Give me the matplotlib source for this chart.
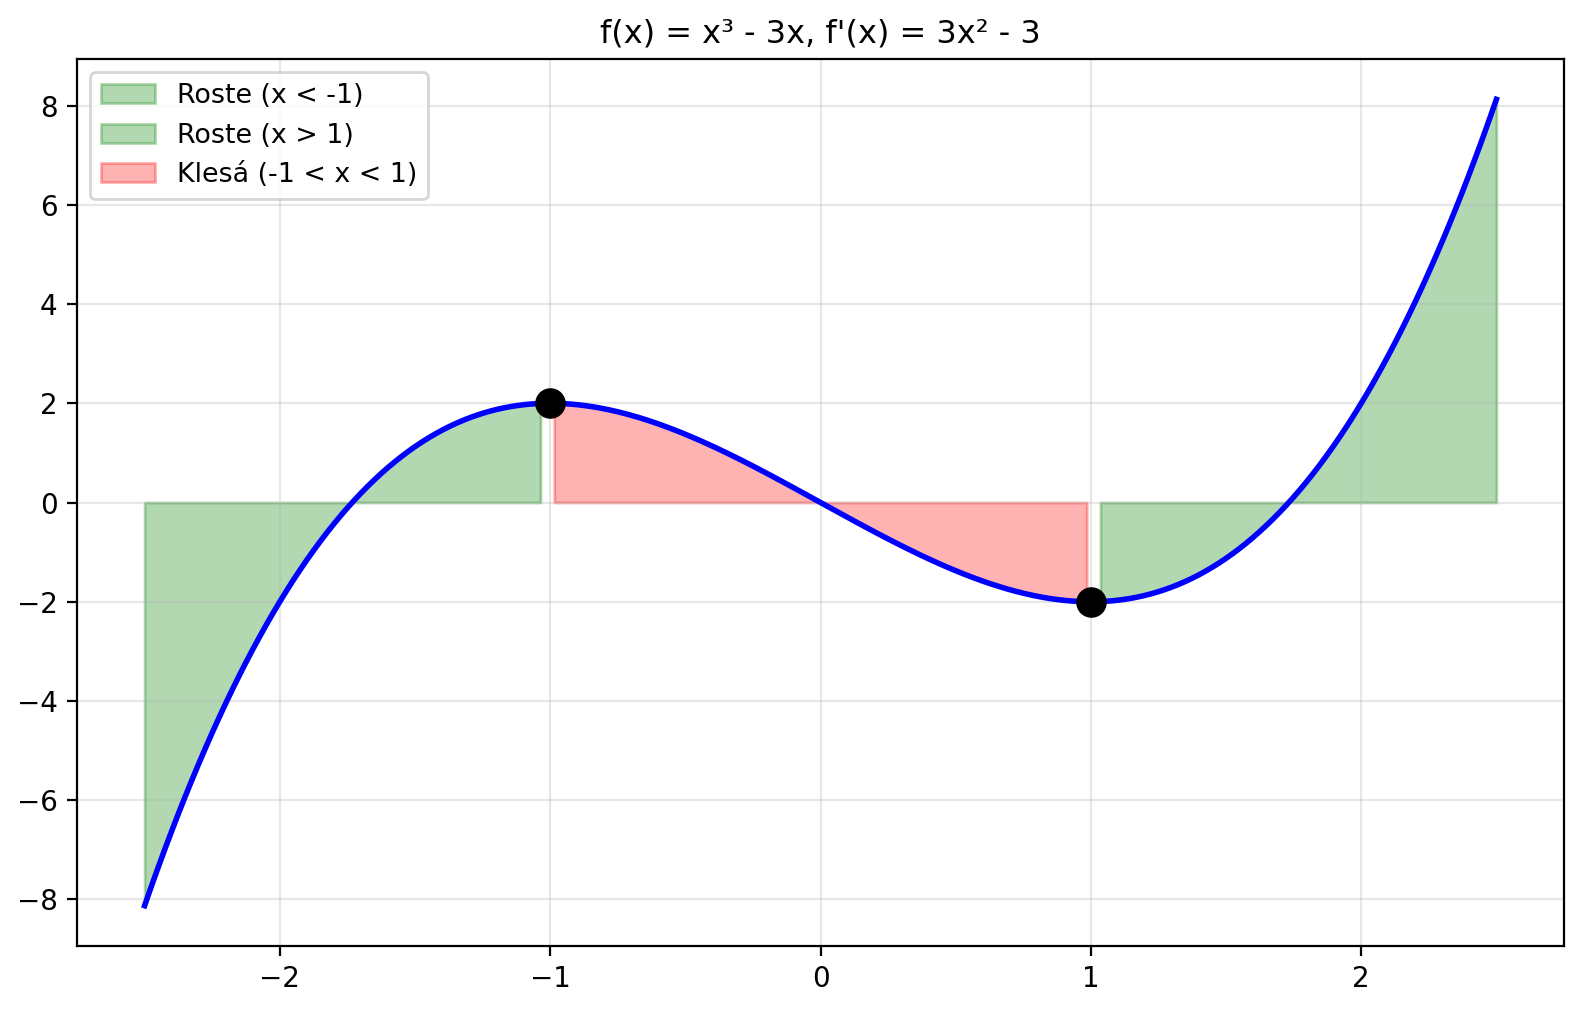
import numpy as np
import matplotlib
matplotlib.use("Agg")
import matplotlib.pyplot as plt

# Data definition
x_min, x_max = -2.5, 2.5
n_fill = 100          # sample count used for shaded regions
n_line = 400          # sample count for the smooth curve
coef_cubic, coef_linear = 1.0, -3.0   # f(x) = x^3 - 3x
crit_x = [-1.0, 1.0]
labels = ["Roste (x < -1)", "Roste (x > 1)", "Klesá (-1 < x < 1)"]
title = "f(x) = x³ - 3x, f'(x) = 3x² - 3"


def f(x):
    return coef_cubic * x**3 + coef_linear * x


x_fill = np.linspace(x_min, x_max, n_fill)
x_line = np.linspace(x_min, x_max, n_line)
crit_y = [f(c) for c in crit_x]

fig = plt.figure(figsize=(7.92, 5.05), dpi=200)
ax = fig.add_axes([77 / 1584, 1 - 946 / 1010, (1564 - 77) / 1584, (946 - 59) / 1010])

ax.plot(x_line, f(x_line), color="blue", linewidth=2)
ax.fill_between(x_fill, f(x_fill), 0, where=x_fill < -1, color="green", alpha=0.3, label=labels[0])
ax.fill_between(x_fill, f(x_fill), 0, where=x_fill > 1, color="green", alpha=0.3, label=labels[1])
ax.fill_between(x_fill, f(x_fill), 0, where=(x_fill > -1) & (x_fill < 1), color="red", alpha=0.3, label=labels[2])
ax.plot(crit_x, crit_y, "o", color="black", markersize=10, zorder=5)

ax.set_title(title, fontsize=11.5)
ax.grid(True, alpha=0.3)
ax.legend(loc="upper left", fontsize=9.7)
ax.tick_params(labelsize=10)

fig.savefig("out.png", dpi=200)
